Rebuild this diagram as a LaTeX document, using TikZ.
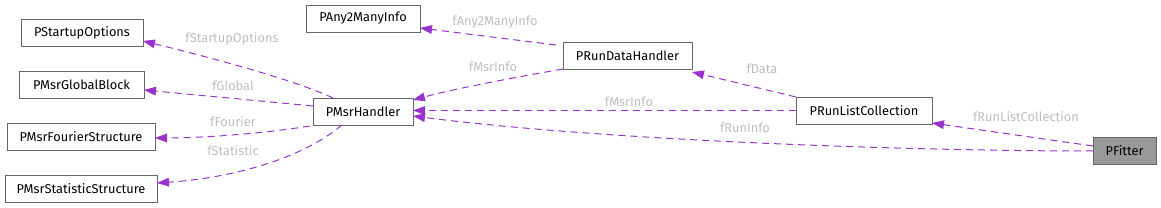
\documentclass[tikz,border=0pt]{standalone}
\usepackage{fontspec}
\setmainfont{Fira Sans}
\usetikzlibrary{arrows.meta}
\definecolor{edgec}{HTML}{9A32CD}
\definecolor{boxb}{HTML}{666666}
\definecolor{labc}{HTML}{BEBEBE}
\definecolor{fitterc}{HTML}{999999}
\begin{document}
\begin{tikzpicture}[x=1pt,y=-1pt,
  cls/.style={draw=boxb,line width=0.9pt,fill=white,minimum height=27pt,inner xsep=0pt,font=\fontsize{12.8}{15}\selectfont,anchor=center},
  rel/.style={draw=edgec,line width=1pt,dash pattern=on 7pt off 5pt,-{Triangle[length=12pt,width=9pt,fill=edgec,line width=0pt]}},
  lab/.style={text=labc,font=\fontsize{12.8}{15}\selectfont,inner sep=0pt}]
\useasboundingbox (0,0) rectangle (1161,208);
\node[cls,minimum width=122pt] (so) at (82,32.5) {PStartupOptions};
\node[cls,minimum width=125pt] (gb) at (81.5,84.5) {PMsrGlobalBlock};
\node[cls,minimum width=148pt] (fs) at (81,136.5) {PMsrFourierStructure};
\node[cls,minimum width=152pt] (ss) at (81,188.5) {PMsrStatisticStructure};
\node[cls,minimum width=100pt] (mh) at (363,111.5) {PMsrHandler};
\node[cls,minimum width=114pt] (am) at (363,18.5) {PAny2ManyInfo};
\node[cls,minimum width=129pt] (rd) at (627.5,56) {PRunDataHandler};
\node[cls,minimum width=136pt] (rl) at (864,111) {PRunListCollection};
\node[cls,minimum width=63pt,fill=fitterc] (pf) at (1124.5,151) {PFitter};

\coordinate (a1) at (333,98);
\coordinate (b1) at (143,41);
\draw[rel] (a1) .. controls (290,78) and (200,55) .. (b1);
\coordinate (a2) at (313,106);
\coordinate (b2) at (144,90);
\draw[rel] (a2) -- (b2);
\coordinate (a3) at (310,126);
\coordinate (b3) at (155,138);
\draw[rel] (a3) .. controls (260,134) and (200,138) .. (b3);
\coordinate (a4) at (342,125);
\coordinate (b4) at (157,183);
\draw[rel] (a4) .. controls (300,160) and (230,178) .. (b4);
\coordinate (a5) at (556,45);
\coordinate (b5) at (420,28);
\draw[rel] (a5) -- (b5);
\coordinate (a6) at (563,69);
\coordinate (b6) at (413,100);
\draw[rel] (a6) .. controls (500,80) and (450,90) .. (b6);
\coordinate (a7) at (796,97);
\coordinate (b7) at (692,72);
\draw[rel] (a7) -- (b7);
\coordinate (a8) at (796,110.5);
\coordinate (b8) at (413,110.5);
\draw[rel] (a8) -- (b8);
\coordinate (a9) at (1093,151);
\coordinate (b9) at (413,116);
\draw[rel] (a9) .. controls (900,151) and (600,140) .. (b9);
\coordinate (a10) at (1093,146);
\coordinate (b10) at (932,123);
\draw[rel] (a10) -- (b10);

\node[lab] at (232,39) {fStartupOptions};
\node[lab] at (233,86) {fGlobal};
\node[lab] at (233,122) {fFourier};
\node[lab] at (233,151) {fStatistic};
\node[lab] at (495,22) {fAny2ManyInfo};
\node[lab] at (493,67) {fMsrInfo};
\node[lab] at (762,69) {fData};
\node[lab] at (629,102) {fMsrInfo};
\node[lab] at (745,128) {fRunInfo};
\node[lab] at (1026,117) {fRunListCollection};
\end{tikzpicture}
\end{document}
